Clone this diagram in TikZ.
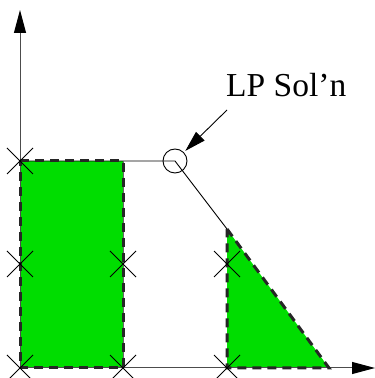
\documentclass[tikz,border=0pt]{standalone}
\usepackage{fontspec}
\setmainfont{Liberation Serif}
\usetikzlibrary{arrows.meta}
\definecolor{lpgreen}{RGB}{0,221,0}
\begin{document}
\begin{tikzpicture}[x=1pt,y=1pt,
  axis/.style={line width=1pt,draw=black!70,-{Triangle[length=23pt,width=12pt,color=black]}},
  thin line/.style={line width=0.9pt,draw=black},
  bound/.style={line width=3pt,draw=black!85,dash pattern=on 9pt off 6pt},
  feasfill/.style={fill=lpgreen},
  xmark/.style={line width=0.8pt,draw=black}]
\useasboundingbox (0,0) rectangle (375,378);
% fills
\fill[feasfill] (20,10) rectangle (123,217);
\fill[feasfill] (227,149) -- (329,10) -- (227,10) -- cycle;
% coordinates
\coordinate (O) at (20,10);
\coordinate (ytop) at (20,368);
\coordinate (xend) at (375,10);
\coordinate (a) at (20,217);
\coordinate (b) at (123,217);
\coordinate (c) at (123,10);
\coordinate (p) at (175,217);
\coordinate (t) at (227,149);
\coordinate (u) at (227,10);
\coordinate (v) at (329,10);
% axes
\draw[axis] (O) -- (ytop);
\draw[axis] (O) -- (xend);
% constraint lines
\draw[thin line] (a) -- (p) -- (t);
\draw[line width=0.8pt,draw=black!60] (b) -- (c);
% dashed boundaries
\draw[bound] (a) -- (b) -- (c) -- (O) -- cycle;
\draw[bound] (t) -- (v) -- (u) -- cycle;
% crosses
\foreach \n/\px/\py in {c1/20/217,c2/20/114,c3/20/10,c4/123/114,c5/123/10,c6/227/114,c7/227/10}{
  \coordinate (\n) at (\px,\py);
  \draw[xmark] ([shift={(-13,-13)}]\n) -- ([shift={(13,13)}]\n);
  \draw[xmark] ([shift={(-13,13)}]\n) -- ([shift={(13,-13)}]\n);
}
% LP solution circle
\node[circle,draw,line width=0.9pt,minimum size=24pt,inner sep=0pt] (lp) at (p) {};
% label
\node[anchor=base west,inner sep=0pt,font=\fontsize{33.5}{40}\selectfont] (lbl) at (226,281) {LP Sol’n};
\coordinate (arrstart) at (227,268);
\draw[line width=0.9pt,-{Triangle[length=21pt,width=12pt]},shorten >=2pt] (arrstart) -- (lp);
\end{tikzpicture}
\end{document}
